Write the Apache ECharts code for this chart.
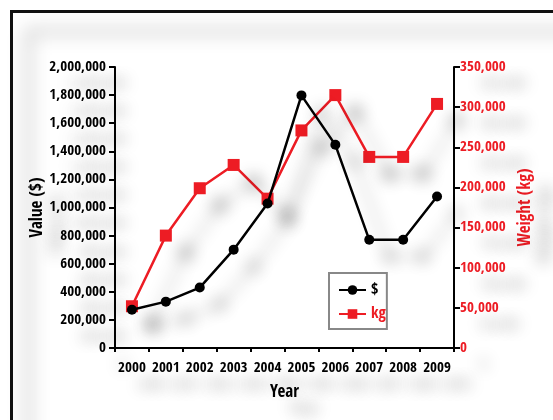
<!DOCTYPE html>
<html>
<head>
<meta charset="utf-8">
<script src="https://cdn.jsdelivr.net/npm/echarts@6/dist/echarts.min.js"></script>
<style>
  html, body { margin: 0; padding: 0; background: #fff; }
  #chart { width: 553px; height: 420px; }
</style>
</head>
<body>
<div id="chart"></div>
<script>
// Yearly totals: traded value in dollars and weight in kilograms
const years = ['2000', '2001', '2002', '2003', '2004', '2005', '2006', '2007', '2008', '2009'];
const valueUsd = [272000, 330000, 430000, 700000, 1028000, 1798000, 1446000, 770000, 770000, 1078000];
const weightKg = [52000, 140000, 199000, 228000, 186000, 271000, 315000, 238000, 238000, 304000];

const FONT = '"Open Sans Condensed", "Liberation Sans Narrow", sans-serif';
const RED = '#ed1c24';
const W = 600;
// soft drop shadow shared by all texts
const SH = { textShadowColor: 'rgba(0,0,0,0.32)', textShadowBlur: 16, textShadowOffsetX: 20, textShadowOffsetY: 17 };
const LINE_SH = { shadowColor: 'rgba(0,0,0,0.3)', shadowBlur: 16, shadowOffsetX: 20, shadowOffsetY: 17 };
const fmt = v => v.toLocaleString('en-US');

function draw() {
  const chart = echarts.init(document.getElementById('chart'), null, { renderer: 'canvas' });
  chart.setOption({
    backgroundColor: '#fff',
    animation: false,
    textStyle: { fontFamily: FONT },
    graphic: [{
      type: 'rect',
      shape: { x: 11.5, y: 11.5, width: 700, height: 600 },
      style: {
        fill: 'none', stroke: '#111', lineWidth: 3,
        shadowColor: 'rgba(0,0,0,0.45)', shadowBlur: 18, shadowOffsetX: 17, shadowOffsetY: 20
      },
      z: 100
    }],
    grid: { left: 115, right: 99, top: 67, bottom: 72 },
    legend: {
      orient: 'vertical',
      left: 329, top: 273,
      padding: [9, 1, 7, 9],
      borderColor: '#888', borderWidth: 2, borderRadius: 0,
      itemWidth: 27, itemHeight: 12, itemGap: 8,
      textStyle: { fontFamily: FONT, fontSize: 16, fontWeight: W },
      data: [
        { name: '$', textStyle: { color: '#000' } },
        { name: 'kg', textStyle: { color: RED } }
      ]
    },
    xAxis: {
      type: 'category',
      data: years,
      boundaryGap: true,
      name: 'Year',
      nameLocation: 'middle',
      nameMoveOverlap: false,
      nameGap: 36,
      nameTextStyle: Object.assign({ color: '#000', fontSize: 17, fontWeight: W, fontFamily: FONT }, SH),
      axisLine: { lineStyle: { color: '#000', width: 2 } },
      axisTick: { show: true, length: 4, lineStyle: { color: '#000', width: 2 } },
      axisLabel: Object.assign({ color: '#000', fontSize: 15, fontWeight: W, fontFamily: FONT, margin: 13, interval: 0 }, SH)
    },
    yAxis: [{
      type: 'value',
      min: 0, max: 2000000, interval: 200000,
      name: 'Value ($)',
      nameLocation: 'middle',
      nameMoveOverlap: false,
      nameRotate: 90,
      nameGap: 69,
      nameTextStyle: Object.assign({ color: '#000', fontSize: 17, fontWeight: W, fontFamily: FONT }, SH),
      splitLine: { show: false },
      axisLine: { show: true, lineStyle: { color: '#000', width: 2 } },
      axisTick: { show: true, length: 6, lineStyle: { color: '#000', width: 2 } },
      axisLabel: Object.assign({ color: '#000', fontSize: 15, fontWeight: W, fontFamily: FONT, margin: 9, formatter: fmt }, SH)
    }, {
      type: 'value',
      min: 0, max: 350000, interval: 50000,
      name: 'Weight (kg)',
      nameLocation: 'middle',
      nameMoveOverlap: false,
      nameRotate: 90,
      nameGap: 63,
      nameTextStyle: Object.assign({ color: RED, fontSize: 17, fontWeight: W, fontFamily: FONT }, SH),
      splitLine: { show: false },
      axisLine: { show: true, lineStyle: { color: '#000', width: 2 } },
      axisTick: { show: true, length: 6, lineStyle: { color: '#000', width: 2 } },
      axisLabel: Object.assign({ color: RED, fontSize: 15, fontWeight: W, fontFamily: FONT, margin: 6, formatter: fmt }, SH)
    }],
    series: [{
      name: '$',
      type: 'line',
      yAxisIndex: 0,
      data: valueUsd,
      symbol: 'circle',
      symbolSize: 10,
      z: 3,
      lineStyle: Object.assign({ color: '#000', width: 2.5 }, LINE_SH),
      itemStyle: Object.assign({ color: '#000' }, LINE_SH)
    }, {
      name: 'kg',
      type: 'line',
      yAxisIndex: 1,
      data: weightKg,
      symbol: 'rect',
      symbolSize: 12,
      z: 2,
      lineStyle: Object.assign({ color: RED, width: 2.5 }, LINE_SH),
      itemStyle: Object.assign({ color: RED }, LINE_SH)
    }]
  });
}

if (document.fonts && document.fonts.load) {
  Promise.all([
    document.fonts.load('600 15px "Open Sans Condensed"'),
    document.fonts.load('600 15px "Liberation Sans Narrow"')
  ]).then(draw, draw);
} else {
  draw();
}
</script>
</body>
</html>
